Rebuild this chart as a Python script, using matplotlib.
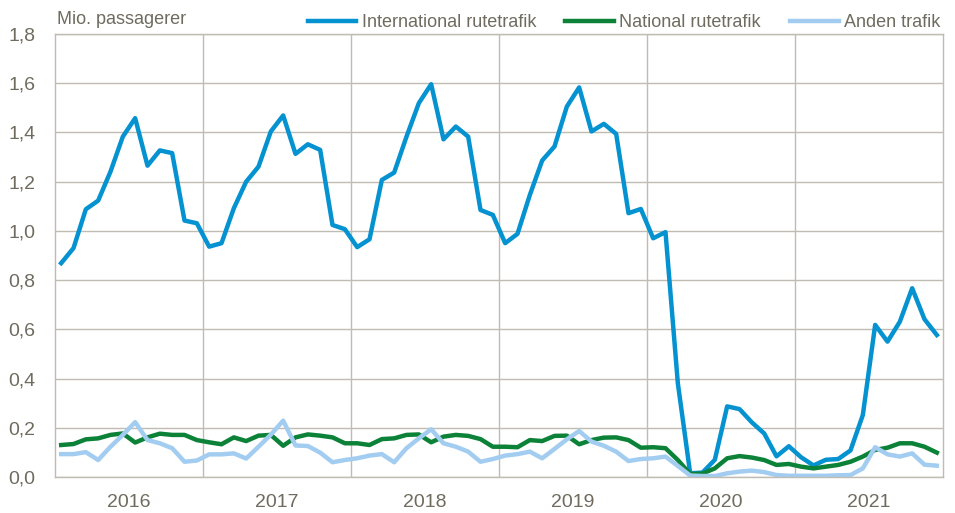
import matplotlib
matplotlib.use('Agg')
import matplotlib.pyplot as plt

years = ['2016', '2017', '2018', '2019', '2020', '2021']

# Mio. passagerer pr. måned, jan 2016 - dec 2021
international = [
    0.869, 0.930, 1.088, 1.123, 1.241, 1.383, 1.458, 1.265, 1.327, 1.316, 1.042, 1.031,
    0.936, 0.950, 1.092, 1.200, 1.261, 1.404, 1.469, 1.313, 1.352, 1.329, 1.024, 1.007,
    0.934, 0.966, 1.207, 1.237, 1.383, 1.519, 1.596, 1.372, 1.424, 1.383, 1.085, 1.065,
    0.950, 0.988, 1.146, 1.286, 1.343, 1.505, 1.583, 1.404, 1.435, 1.394, 1.072, 1.089,
    0.970, 0.995, 0.381, 0.015, 0.018, 0.070, 0.287, 0.276, 0.222, 0.177, 0.084, 0.125,
    0.080, 0.047, 0.070, 0.073, 0.108, 0.252, 0.618, 0.550, 0.631, 0.767, 0.641, 0.577,
]
national = [
    0.130, 0.134, 0.153, 0.157, 0.171, 0.177, 0.140, 0.161, 0.176, 0.171, 0.171, 0.150,
    0.141, 0.133, 0.161, 0.146, 0.168, 0.171, 0.127, 0.161, 0.173, 0.168, 0.161, 0.137,
    0.137, 0.130, 0.154, 0.157, 0.171, 0.173, 0.141, 0.164, 0.171, 0.167, 0.154, 0.123,
    0.123, 0.121, 0.150, 0.146, 0.167, 0.168, 0.133, 0.150, 0.160, 0.161, 0.150, 0.119,
    0.121, 0.117, 0.069, 0.012, 0.014, 0.035, 0.076, 0.085, 0.079, 0.069, 0.049, 0.053,
    0.042, 0.035, 0.042, 0.049, 0.062, 0.083, 0.110, 0.119, 0.137, 0.137, 0.123, 0.099,
]
anden = [
    0.093, 0.093, 0.101, 0.069, 0.123, 0.171, 0.223, 0.150, 0.137, 0.117, 0.062, 0.067,
    0.092, 0.092, 0.096, 0.075, 0.123, 0.172, 0.229, 0.128, 0.126, 0.099, 0.060, 0.069,
    0.076, 0.087, 0.093, 0.060, 0.117, 0.157, 0.194, 0.137, 0.123, 0.103, 0.062, 0.073,
    0.087, 0.093, 0.103, 0.076, 0.114, 0.153, 0.187, 0.144, 0.127, 0.103, 0.065, 0.073,
    0.076, 0.083, 0.045, 0.006, 0.004, 0.004, 0.015, 0.022, 0.026, 0.020, 0.008, 0.005,
    0.005, 0.005, 0.005, 0.007, 0.008, 0.035, 0.121, 0.092, 0.083, 0.096, 0.050, 0.046,
]
labels = ['International rutetrafik', 'National rutetrafik', 'Anden trafik']
colors = ['#0592d0', '#0b8238', '#a3cdf0']

txt = '#6f6b5f'
grid = '#bfbcb2'
fs = 13
plt.rcParams['font.family'] = ['Liberation Sans', 'DejaVu Sans']
plt.rcParams['font.size'] = fs

fig = plt.figure(figsize=(9.55, 5.13), dpi=100)
ax = fig.add_axes([55 / 955, 36 / 513, 888 / 955, 443 / 513])

x = list(range(len(international)))
for series, lab, col in zip([international, national, anden], labels, colors):
    ax.plot(x, series, color=col, lw=3.2, label=lab)

ax.set_xlim(-0.5, len(x) - 0.5)
ax.set_ylim(0, 1.8)
ax.set_yticks([i / 10 for i in range(0, 19, 2)])
ax.set_yticklabels([f'{i / 10:.1f}'.replace('.', ',') for i in range(0, 19, 2)])
ax.set_xticks([12 * i + 5.5 for i in range(len(years))])
ax.set_xticklabels(years)
ax.set_xticks([12 * i - 0.5 for i in range(1, len(years))], minor=True)
ax.grid(axis='y', which='major', color=grid, lw=1)
ax.grid(axis='x', which='minor', color=grid, lw=1)
ax.set_axisbelow(True)
ax.tick_params(which='both', length=0, colors=txt, labelsize=fs + 1)
ax.tick_params(axis='y', pad=14)
ax.tick_params(axis='x', pad=12)
for s in ax.spines.values():
    s.set_color(grid)
    s.set_linewidth(1)

fig.text(57 / 955, 1 - 20 / 513, 'Mio. passagerer', color=txt, fontsize=fs, va='center', ha='left')
leg = ax.legend(loc='lower right', bbox_to_anchor=(1.0, 1.0), ncol=3, frameon=False,
                handlelength=2.7, handletextpad=0.3, columnspacing=1.6, borderaxespad=0,
                borderpad=0.15, fontsize=fs)
for t in leg.get_texts():
    t.set_color(txt)

fig.savefig('out.png', dpi=100)
